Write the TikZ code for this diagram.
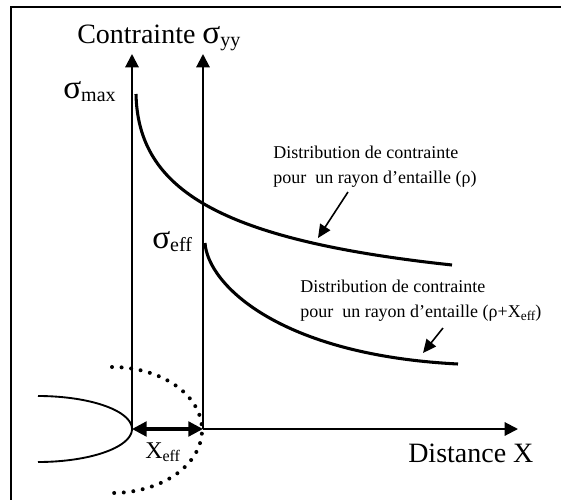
\documentclass[tikz,border=0pt]{standalone}
\usepackage{fontspec}
\setmainfont{Liberation Serif}
\usetikzlibrary{arrows.meta}
\newcommand{\indice}[2][15]{\raisebox{-2.5pt}{\fontsize{#1}{#1}\selectfont #2}}
\newcommand{\sig}{{\fontsize{25}{25}\selectfont σ}}

\begin{document}
\begin{tikzpicture}[x=0.75pt,y=-0.75pt,
  axe/.style={line width=1.5pt,-{Triangle[length=10pt,width=10pt]}},
  courbe/.style={line width=2.3pt},
  fleche/.style={line width=1.2pt,-{Triangle[length=10pt,width=9pt]}},
  cote/.style={line width=2.4pt,{Triangle[length=11pt,width=11pt]}-{Triangle[length=11pt,width=11pt]}},
  pointille/.style={line width=3pt,line cap=round,dash pattern=on 0pt off 7.2pt},
  grand/.style={inner sep=0pt,anchor=base west,font=\fontsize{21}{21}\selectfont},
  petit/.style={inner sep=0pt,anchor=base west,font=\fontsize{13.5}{13.5}\selectfont}]
  \clip (0,0) rectangle (561,500);
  % Cadre
  \draw[line width=1.5pt] (11,7) rectangle (600,600);
  % Axes
  \coordinate (O1) at (132,429);
  \coordinate (O2) at (203,429);
  \coordinate (Y1) at (132,54);
  \coordinate (Y2) at (203,54);
  \coordinate (X2) at (518,429);
  \draw[axe] (O1) -- (Y1);
  \draw[axe] (O2) -- (Y2);
  \draw[axe] (O2) -- (X2);
  \node[grand] (ordonnee) at (77,43) {Contrainte \sig\indice{yy}};
  \node[grand] (abscisse) at (408,462) {Distance X};
  % Entaille et rayon effectif
  \draw[line width=1.4pt] plot[domain=-90:90,samples=60,smooth]
    ({38+94*cos(\x)},{429+33*sin(\x)});
  \draw[pointille] plot[domain=-90:90,samples=80,smooth]
    ({112+90*cos(\x)},{430+63*sin(\x)});
  \draw[cote] (O1) -- (O2);
  \node[grand,font=\fontsize{18}{18}\selectfont] (xeff) at (145,458) {X\indice[12]{eff}};
  % Distributions
  \coordinate (c1d) at (136,94);
  \coordinate (c1f) at (452,265);
  \coordinate (c2d) at (205,243);
  \coordinate (c2f) at (458,364);
  \draw[courbe] (c1d) .. controls (138,190) and (220,240) .. (c1f);
  \draw[courbe] (c2d) .. controls (208,285) and (280,355) .. (c2f);
  \node[grand] (smax) at (63,98) {\sig\indice{max}};
  \node[grand] (seff) at (152,248) {\sig\indice{eff}};
  % Legendes
  \node[petit] (legende1a) at (273,158) {Distribution de contrainte};
  \node[petit] (legende1b) at (273,183) {pour~ un rayon d’entaille (ρ)};
  \node[petit] (legende2a) at (300,292) {Distribution de contrainte};
  \node[petit] (legende2b) at (300,317) {pour~ un rayon d’entaille (ρ+X\indice[10]{eff})};
  \coordinate (f1d) at (348,192);
  \coordinate (f1a) at (318,238);
  \coordinate (f2d) at (443,328);
  \coordinate (f2a) at (423,353);
  \draw[fleche] (f1d) -- (f1a);
  \draw[fleche] (f2d) -- (f2a);
\end{tikzpicture}
\end{document}
